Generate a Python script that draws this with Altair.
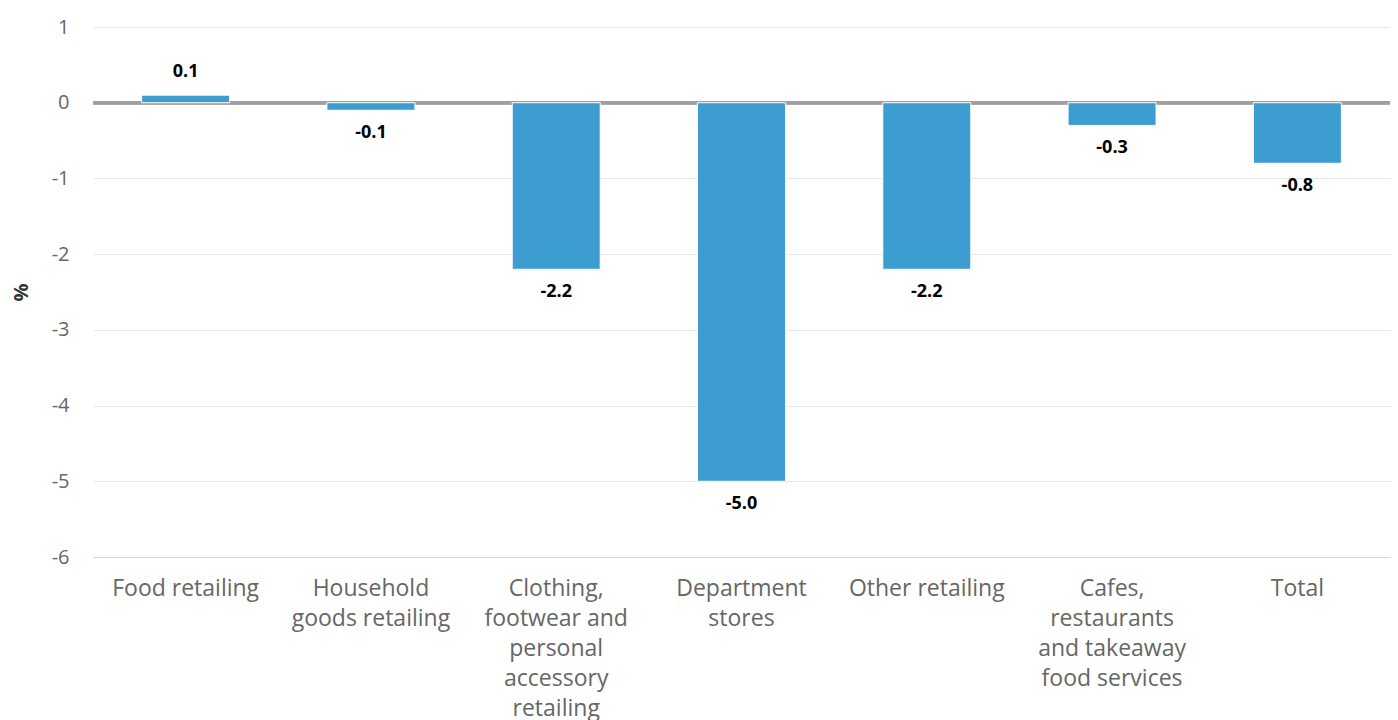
import altair as alt
import pandas as pd

categories = [
    "Food retailing",
    "Household|goods retailing",
    "Clothing,|footwear and|personal|accessory|retailing",
    "Department|stores",
    "Other retailing",
    "Cafes,|restaurants|and takeaway|food services",
    "Total",
]
values = [0.1, -0.1, -2.2, -5.0, -2.2, -0.3, -0.8]
y_ticks = [-6, -5, -4, -3, -2, -1, 0, 1]

df = pd.DataFrame({"category": categories, "value": values})
df["label"] = df["value"].map(lambda v: f"{v:.1f}")
df["zero"] = 0

FONT = "Open Sans"

x_scale = alt.Scale(domain=categories, paddingInner=0.525, paddingOuter=0.2625)
y_scale = alt.Scale(domain=[-6, 1], nice=False, zero=False)

x_axis = alt.Axis(
    title=None,
    labelExpr="split(datum.label, '|')",
    labelAngle=0,
    labelFontSize=23,
    labelColor="#666666",
    labelFont=FONT,
    labelLineHeight=30,
    labelPadding=20,
    labelBaseline="top",
    labelLimit=300,
    ticks=False,
    domain=True,
    domainColor="#ccd6eb",
    domainWidth=1,
    grid=False,
)

y_axis = alt.Axis(
    values=y_ticks,
    labelExpr="datum.value + ''",
    title="%",
    titleFont=FONT,
    titleFontSize=20,
    titleFontWeight="bold",
    titleColor="#333333",
    titlePadding=20,
    labelFont=FONT,
    labelFontSize=20,
    labelColor="#666666",
    labelPadding=24,
    ticks=False,
    domain=False,
    grid=True,
    gridColor="#e6e6e6",
    gridWidth=1,
)

x_enc = alt.X("category:N", sort=categories, scale=x_scale, axis=x_axis)
y_enc = alt.Y("value:Q", scale=y_scale, axis=y_axis)

base = alt.Chart(df)

zero = base.mark_rule(color="#a0a0a0", strokeWidth=3).encode(
    y=alt.Y("zero:Q", scale=y_scale, axis=y_axis)
)

bars = base.mark_bar(color="#3e9dd0", stroke="white", strokeWidth=1).encode(x=x_enc, y=y_enc)

pos_labels = (
    base.transform_filter("datum.value >= 0")
    .mark_text(font=FONT, fontSize=18, fontWeight="bold", color="#000000", baseline="middle", dy=-23)
    .encode(x=x_enc, y=y_enc, text="label:N")
)
neg_labels = (
    base.transform_filter("datum.value < 0")
    .mark_text(font=FONT, fontSize=18, fontWeight="bold", color="#000000", baseline="middle", dy=23)
    .encode(x=x_enc, y=y_enc, text="label:N")
)

chart = (
    alt.layer(zero, bars, pos_labels, neg_labels)
    .properties(
        width=1297,
        height=530,
        background="white",
        autosize=alt.AutoSizeParams(type="none"),
        padding={"left": 93, "top": 27, "right": 8, "bottom": 163},
    )
    .configure_view(strokeWidth=0)
)

chart.save("out.html", embed_options={"renderer": "svg", "actions": False})
